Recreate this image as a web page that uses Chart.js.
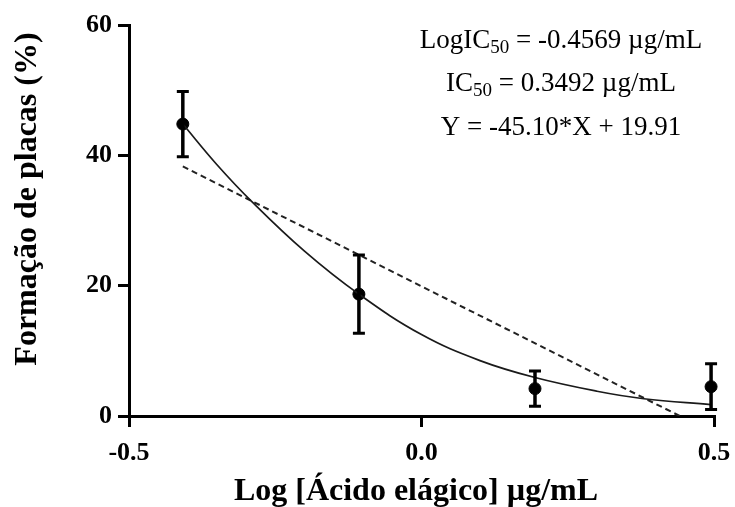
<!DOCTYPE html>
<html>
<head>
<meta charset="utf-8">
<script src="https://cdn.jsdelivr.net/npm/chart.js@4.4.1/dist/chart.umd.min.js"></script>
<style>
    body { margin: 0; background: #fff; }
    #wrap { width: 735px; height: 507px; }
</style>
</head>
<body>
<div id="wrap"><canvas id="plaqueChart" width="735" height="507"></canvas></div>
<script>
// log concentration of each dose
var logDoses = [-0.408, -0.107, 0.194, 0.495];
var plaqueMeans = [44.8, 18.7, 4.2, 4.5];
var plaqueErrors = [5.0, 6.0, 2.7, 3.5];

// fitted curve
var fitX = [-0.408, -0.35, -0.29, -0.2, -0.107, 0.0, 0.1, 0.194, 0.3, 0.38, 0.495];
var fitY = [44.8, 38.6, 32.9, 25.3, 18.7, 12.5, 8.5, 5.9, 3.8, 2.65, 1.75];

// linear regression line ends
var linX = [-0.408, 0.4415];
var linY = [38.3, 0];

var xTicks = [-0.5, 0.0, 0.5];
var yTicks = [0, 20, 40, 60];

var xTitle = 'Log [Ácido elágico] µg/mL';
var yTitle = 'Formação de placas (%)';

// each line: [text, isSubscript]
var noteLines = [
    [['LogIC', false], ['50', true], [' = -0.4569 µg/mL', false]],
    [['IC', false], ['50', true], [' = 0.3492 µg/mL', false]],
    [['Y = -45.10*X + 19.91', false]]
];

var serif = '"Liberation Serif", "Times New Roman", serif';

function toPoints(xs, ys) {
    return xs.map(function (x, i) { return { x: x, y: ys[i] }; });
}

var errorBars = {
    id: 'errorBars',
    afterDatasetsDraw: function (chart) {
        var ctx = chart.ctx;
        var xs = chart.scales.x, ys = chart.scales.y;
        ctx.save();
        ctx.strokeStyle = '#000';
        logDoses.forEach(function (d, i) {
            var px = xs.getPixelForValue(d);
            var top = ys.getPixelForValue(plaqueMeans[i] + plaqueErrors[i]);
            var bot = ys.getPixelForValue(plaqueMeans[i] - plaqueErrors[i]);
            ctx.lineWidth = 3.5;
            ctx.beginPath();
            ctx.moveTo(px, top);
            ctx.lineTo(px, bot);
            ctx.stroke();
            ctx.lineWidth = 3;
            ctx.beginPath();
            ctx.moveTo(px - 6, top);
            ctx.lineTo(px + 6, top);
            ctx.moveTo(px - 6, bot);
            ctx.lineTo(px + 6, bot);
            ctx.stroke();
        });
        ctx.restore();
    }
};

var textLabels = {
    id: 'textLabels',
    afterDraw: function (chart) {
        var ctx = chart.ctx;
        ctx.save();
        ctx.fillStyle = '#000';
        ctx.textBaseline = 'alphabetic';

        // axis titles
        ctx.font = 'bold 32px ' + serif;
        ctx.textAlign = 'center';
        ctx.fillText(xTitle, 416, 500);

        ctx.save();
        ctx.translate(36, 199);
        ctx.rotate(-Math.PI / 2);
        ctx.fillText(yTitle, 0, 0);
        ctx.restore();

        // fit results in the corner
        ctx.textAlign = 'left';
        var baselines = [48, 91, 135];
        var mainFont = '27px ' + serif;
        var subFont = '19px ' + serif;
        noteLines.forEach(function (parts, li) {
            var total = 0;
            parts.forEach(function (p) {
                ctx.font = p[1] ? subFont : mainFont;
                total += ctx.measureText(p[0]).width;
            });
            var x = 561 - total / 2;
            parts.forEach(function (p) {
                ctx.font = p[1] ? subFont : mainFont;
                ctx.fillText(p[0], x, baselines[li] + (p[1] ? 5 : 0));
                x += ctx.measureText(p[0]).width;
            });
        });
        ctx.restore();
    }
};

var ctx = document.getElementById('plaqueChart').getContext('2d');
var chart = new Chart(ctx, {
    type: 'scatter',
    data: {
        datasets: [
            {
                label: 'fit',
                data: toPoints(fitX, fitY),
                showLine: true,
                borderColor: '#1a1a1a',
                borderWidth: 1.7,
                pointRadius: 0,
                tension: 0.4,
                fill: false
            },
            {
                label: 'linear',
                data: toPoints(linX, linY),
                showLine: true,
                borderColor: '#222',
                borderWidth: 2,
                borderDash: [6, 4],
                pointRadius: 0,
                fill: false
            },
            {
                label: 'mean',
                data: toPoints(logDoses, plaqueMeans),
                showLine: false,
                pointRadius: 6,
                pointBackgroundColor: '#000',
                pointBorderColor: '#000',
                clip: false
            }
        ]
    },
    options: {
        responsive: false,
        animation: false,
        devicePixelRatio: 1,
        layout: { padding: { top: 25, right: 21, left: 0, bottom: 0 } },
        plugins: {
            legend: { display: false },
            tooltip: { enabled: false }
        },
        scales: {
            x: {
                type: 'linear',
                min: -0.5,
                max: 0.5,
                afterFit: function (scale) {
                    scale.height = 91;
                    scale.paddingLeft = 0;
                    scale.paddingRight = 0;
                },
                afterBuildTicks: function (scale) {
                    scale.ticks = xTicks.map(function (v) { return { value: v }; });
                },
                ticks: {
                    color: '#000',
                    padding: 11,
                    font: { family: serif, size: 26, weight: 'bold' },
                    callback: function (v) { return Number(v).toFixed(1); }
                },
                grid: {
                    drawOnChartArea: false,
                    color: '#000',
                    lineWidth: 3,
                    tickLength: 11
                },
                border: { display: true, color: '#000', width: 3 }
            },
            y: {
                min: 0,
                max: 60,
                afterFit: function (scale) {
                    scale.width = 129;
                    scale.paddingTop = 0;
                    scale.paddingBottom = 0;
                },
                afterBuildTicks: function (scale) {
                    scale.ticks = yTicks.map(function (v) { return { value: v }; });
                },
                ticks: {
                    color: '#000',
                    padding: 6,
                    font: { family: serif, size: 26, weight: 'bold' }
                },
                grid: {
                    drawOnChartArea: false,
                    color: '#000',
                    lineWidth: 3,
                    tickLength: 11
                },
                border: { display: true, color: '#000', width: 3 }
            }
        }
    },
    plugins: [errorBars, textLabels]
});
</script>
</body>
</html>
